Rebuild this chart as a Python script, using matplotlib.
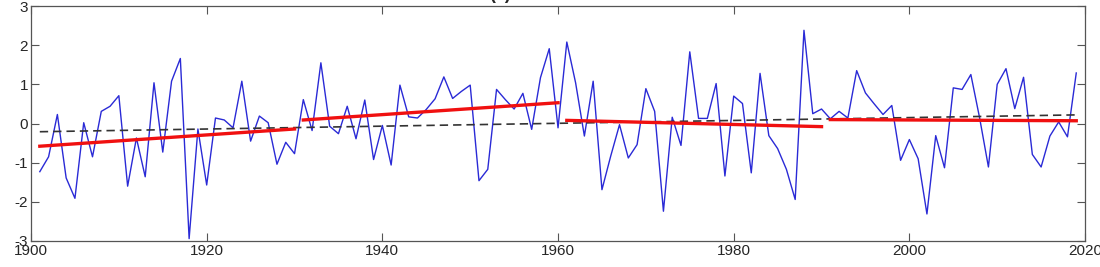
import numpy as np
import matplotlib.pyplot as plt

years = np.arange(1901, 2020)
anom = [-1.23, -0.85, 0.23, -1.39, -1.91, 0.02, -0.85, 0.31, 0.44, 0.71,
        -1.60, -0.37, -1.36, 1.04, -0.73, 1.08, 1.66, -2.94, -0.14, -1.57,
        0.14, 0.09, -0.11, 1.08, -0.45, 0.19, 0.02, -1.04, -0.48, -0.77,
        0.61, -0.18, 1.55, -0.07, -0.26, 0.44, -0.39, 0.60, -0.92, -0.05,
        -1.06, 0.98, 0.17, 0.14, 0.36, 0.63, 1.19, 0.64, 0.82, 0.98,
        -1.46, -1.17, 0.87, 0.61, 0.37, 0.77, -0.15, 1.17, 1.91, -0.11,
        2.08, 1.04, -0.32, 1.08, -1.69, -0.83, -0.03, -0.88, -0.54, 0.89,
        0.31, -2.24, 0.16, -0.56, 1.83, 0.13, 0.13, 1.02, -1.34, 0.70,
        0.51, -1.26, 1.28, -0.31, -0.64, -1.17, -1.94, 2.38, 0.25, 0.37,
        0.12, 0.31, 0.14, 1.35, 0.78, 0.50, 0.23, 0.46, -0.94, -0.41,
        -0.90, -2.31, -0.31, -1.13, 0.91, 0.87, 1.25, 0.14, -1.11, 1.00,
        1.40, 0.38, 1.18, -0.79, -1.11, -0.32, 0.04, -0.34, 1.29]

# whole-period trend (start, end)
full_trend_x = [1901, 2019]
full_trend_y = [-0.21, 0.22]

# 30-year segment trends: (x0, x1), (y0, y1)
seg_x = [(1901, 1930), (1931, 1960), (1961, 1990), (1991, 2019)]
seg_y = [(-0.58, -0.14), (0.09, 0.53), (0.08, -0.08), (0.10, 0.07)]

plt.rcParams['font.family'] = ['Liberation Sans', 'DejaVu Sans']
plt.rcParams['axes.unicode_minus'] = False
fig = plt.figure(figsize=(11, 2.67), dpi=100)
ax = fig.add_axes([0.0282, 0.0974, 0.9582, 0.8801])

ax.plot(years, anom, color='#2a2ad6', lw=1.0)
ax.plot(full_trend_x, full_trend_y, color='#333333', lw=1.2, ls=(0, (5, 3)))
for sx, sy in zip(seg_x, seg_y):
    ax.plot(sx, sy, color='#f01010', lw=2.4)

ax.set_xlim(1900, 2020)
ax.set_ylim(-3, 3)
ax.set_xticks(np.arange(1900, 2021, 20))
ax.set_yticks(np.arange(-3, 4, 1))
ax.tick_params(direction='in', top=True, right=True, length=6,
               labelsize=11, colors='#555555', labelcolor='#262626', pad=2)
for sp in ax.spines.values():
    sp.set_color('#555555')
    sp.set_linewidth(0.9)

# panel label, mostly cut off by the top edge as in the original
fig.text(0.455, 1.02, '(c)', ha='center', va='center', fontsize=13,
         fontweight='bold', color='#262626')

fig.savefig('out.png', dpi=100)
